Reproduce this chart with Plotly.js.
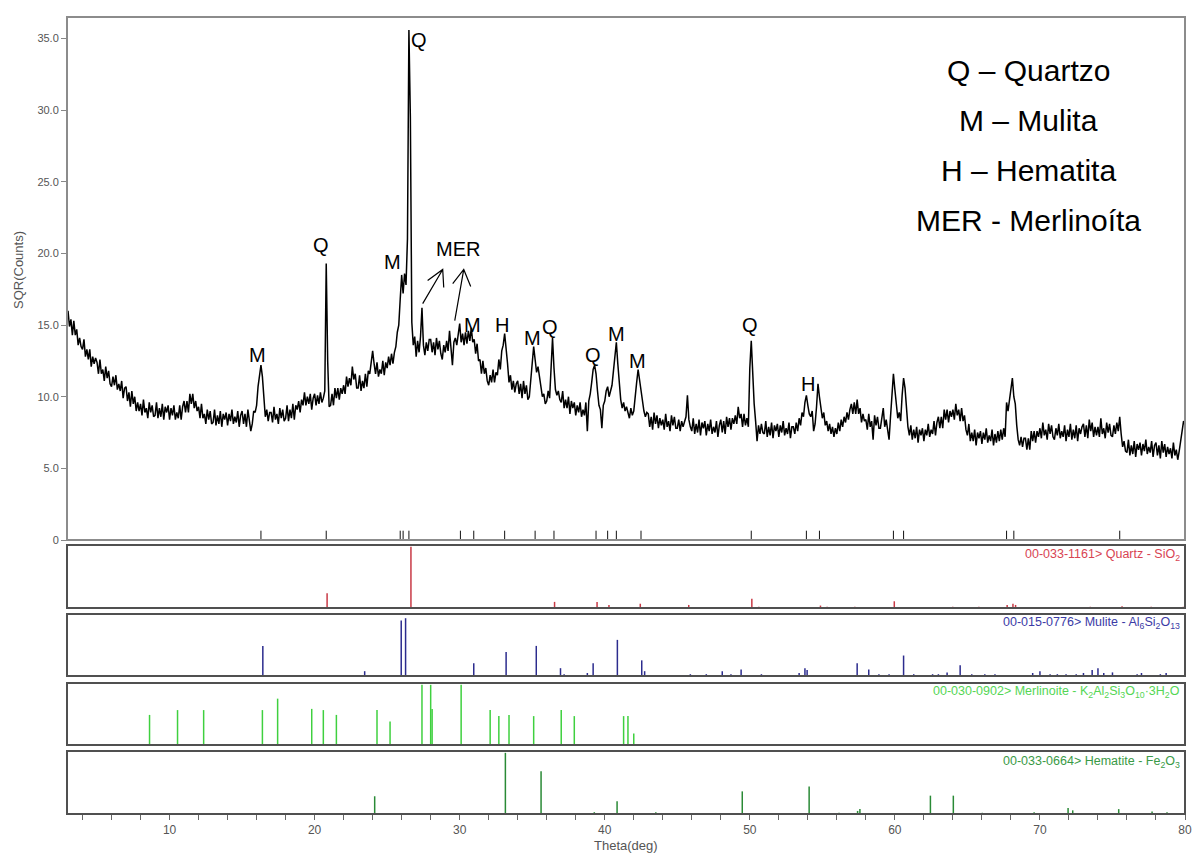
<!DOCTYPE html>
<html>
<head>
<meta charset="utf-8">
<script src="https://cdn.plot.ly/plotly-3.0.1.min.js"></script>
<style>html,body{margin:0;padding:0;background:#fff;}#chart{width:1192px;height:855px;}</style>
</head>
<body>
<div id="chart"></div>
<script>
// ---------- DATA ----------
const scanStart = 3.0;   // degrees
const scanStep = 0.1;    // degrees
const sqrtCounts = [
16.0,14.9,15.4,14.3,15.3,14.3,14.7,13.6,14.1,13.5,
13.3,14.0,12.8,13.3,12.6,13.3,12.1,12.8,12.3,12.7,
12.4,11.6,12.6,11.6,11.9,11.1,12.1,11.3,11.8,10.9,
10.7,11.4,10.8,11.5,10.5,10.9,10.4,11.1,9.9,10.6,
10.7,9.7,10.3,9.3,10.4,9.5,10.0,9.0,9.6,9.0,
9.5,8.7,9.8,8.9,9.2,8.5,9.6,8.9,9.4,8.6,
8.7,9.6,8.5,9.2,8.6,9.5,8.4,9.3,8.9,9.4,
8.4,9.2,8.7,9.4,8.4,8.9,8.5,9.4,8.4,9.3,
9.7,8.9,9.7,8.9,10.2,9.5,10.2,9.2,9.7,9.0,
9.3,8.5,9.5,8.5,8.8,8.1,9.1,8.4,9.0,8.1,
8.2,9.1,8.0,8.7,8.1,9.0,7.9,8.8,8.4,8.9,
8.0,8.8,8.3,9.1,8.1,8.6,8.2,9.0,7.9,8.7,
9.0,8.1,8.8,7.9,9.1,8.3,7.6,8.1,9.0,8.9,
9.4,10.7,11.3,12.2,11.4,9.7,8.6,9.1,8.3,8.9,
8.9,8.2,9.3,8.4,8.8,8.1,9.2,8.5,9.1,8.3,
8.5,9.4,8.3,9.1,8.5,9.5,8.4,9.4,9.1,9.7,
8.9,9.8,9.4,10.3,9.4,10.0,9.5,10.2,9.1,9.9,
10.2,9.4,10.1,9.5,10.3,9.6,9.9,10.4,19.3,12.5,
9.3,9.4,10.2,9.4,10.6,9.9,10.6,9.8,10.6,10.2,
10.8,10.2,11.4,10.7,11.3,10.8,12.1,11.2,11.6,10.6,
10.6,11.5,10.4,11.1,10.6,11.6,10.7,11.8,11.6,12.4,
13.2,12.3,11.6,12.4,11.4,11.9,11.6,12.5,11.5,12.4,
12.0,12.8,12.2,13.0,12.3,13.1,13.5,14.5,15.0,16.8,
18.5,17.2,18.6,17.8,21.0,35.6,29.5,15.2,13.6,14.2,
12.8,13.9,13.1,14.2,16.2,13.6,12.9,13.8,13.2,14.0,
14.0,13.1,13.8,12.9,14.1,13.3,13.9,13.0,12.6,13.6,
13.1,13.9,13.2,14.6,13.4,12.2,13.8,14.1,13.6,14.5,
15.1,13.8,14.4,13.6,14.5,13.7,14.6,13.9,14.8,13.8,
14.0,13.0,13.7,12.5,12.6,11.6,12.5,11.6,12.0,11.1,
10.8,11.5,11.0,11.9,11.0,11.7,11.5,12.6,11.9,13.2,
13.6,14.4,13.5,12.3,11.0,11.5,10.5,11.1,10.3,10.9,
11.1,10.2,10.9,9.9,11.1,10.2,10.8,9.8,10.0,11.3,
12.5,13.5,12.6,11.7,12.1,11.3,10.9,10.0,10.2,9.5,
9.7,10.4,9.9,11.8,14.1,12.0,10.5,10.1,10.4,9.8,
9.6,10.4,9.2,9.8,9.2,10.0,8.8,9.7,9.2,9.6,
8.7,9.4,8.9,9.6,8.6,9.1,8.7,9.6,7.6,9.7,
10.2,11.0,11.9,12.2,11.6,10.4,9.4,9.1,7.8,9.4,
9.7,10.4,10.7,10.0,10.5,10.8,11.8,13.0,13.8,12.3,
10.8,9.8,9.2,9.6,9.0,9.3,8.9,8.5,9.2,8.7,
9.0,9.8,11.0,11.9,11.2,10.3,9.6,9.0,8.6,8.9,
8.8,7.9,8.6,7.7,8.9,8.1,8.7,7.8,8.5,8.0,
8.4,7.7,8.8,7.9,8.3,7.6,8.7,8.0,8.6,7.8,
7.8,8.4,7.6,8.3,7.9,8.2,8.6,10.1,8.4,7.9,
7.6,8.5,7.4,8.1,7.5,8.4,7.3,8.2,7.8,8.3,
7.3,8.1,7.6,8.4,7.4,7.9,7.5,8.3,7.2,8.0,
8.4,7.5,8.3,7.4,8.6,7.9,8.5,7.7,8.5,8.1,
8.7,8.1,9.3,8.5,8.8,7.9,8.8,8.0,8.5,7.9,
12.0,13.9,11.2,9.5,8.3,6.9,8.0,7.4,8.1,7.5,
7.4,8.3,7.2,7.9,7.3,8.2,7.1,8.0,7.6,8.1,
7.2,8.0,7.5,8.3,7.3,7.8,7.4,8.2,7.1,7.9,
7.9,7.4,8.2,7.6,8.5,8.0,8.9,8.6,9.6,10.1,
9.4,8.8,8.6,9.0,7.6,8.1,9.3,10.9,10.0,9.3,
8.5,8.9,8.0,8.3,7.6,8.1,7.4,7.9,7.2,7.8,
7.4,8.2,7.6,8.4,7.9,8.6,8.2,8.9,8.4,9.1,
9.5,8.8,9.6,8.8,9.8,8.8,9.2,8.2,8.8,8.3,
8.4,7.7,8.8,7.9,8.3,7.0,8.7,8.0,8.6,7.8,
7.8,8.5,9.2,7.9,8.4,7.7,7.0,8.6,9.8,11.6,
10.5,9.3,8.5,8.9,8.3,10.1,11.3,10.6,8.8,7.9,
7.3,8.0,7.0,7.7,7.1,7.9,6.8,7.7,7.3,7.8,
6.9,7.7,7.3,8.1,7.2,7.7,7.4,8.3,7.3,8.2,
8.6,7.8,8.6,7.8,9.1,8.4,9.1,8.2,9.0,8.6,
9.1,8.4,9.5,8.7,9.1,8.3,9.2,8.3,8.7,7.7,
7.3,8.1,6.9,7.5,6.9,7.7,6.6,7.5,7.1,7.6,
6.7,7.5,7.0,7.8,6.8,7.3,6.9,7.7,6.6,7.4,
6.8,7.6,6.9,7.7,7.0,7.8,7.2,9.6,9.0,9.8,
10.4,11.3,10.0,9.5,8.0,7.0,6.6,7.2,6.5,7.1,
7.1,6.3,7.1,6.3,7.6,6.9,7.6,6.8,7.6,7.2,
7.8,7.1,8.2,7.3,7.7,7.0,8.1,7.4,8.0,7.2,
7.0,7.8,7.3,8.1,7.1,7.6,7.2,8.0,6.9,7.7,
7.2,8.1,7.0,7.7,7.1,8.0,6.9,7.8,7.4,7.9,
8.1,7.2,8.0,7.1,8.4,7.6,8.2,7.2,7.9,7.3,
7.9,7.2,8.5,7.4,7.8,7.1,8.2,7.5,8.1,7.3,
7.2,8.0,7.4,8.2,7.6,8.6,7.4,6.5,6.9,6.2,
6.1,7.0,5.9,6.6,6.0,6.9,5.8,6.7,6.3,6.8,
5.9,6.7,6.2,7.0,6.0,6.5,6.1,6.9,5.8,6.6,
6.8,5.9,6.6,5.7,6.9,6.1,6.7,5.8,6.5,6.0,
6.4,5.7,6.8,5.9,6.3,5.6,6.2,6.9,7.6,8.3,
8.0
];

// identified peak markers (under the main scan)
const peakMarks = [16.3,20.8,25.9,26.1,26.5,30.05,30.97,33.1,35.2,36.5,39.4,40.2,40.8,42.5,50.1,53.9,54.8,59.9,60.6,67.7,68.2,75.5];

// reference patterns: positions (deg) and relative intensities (%)
const quartzPos = [20.86,26.64,36.54,39.47,40.29,42.45,45.79,50.14,50.62,54.87,55.33,57.24,59.96,63.99,65.79,67.74,68.14,68.32,73.47,75.66,77.67,79.88];
const quartzInt = [24,100,10,10,5,7,5,15,2,4,2,2,11,2,2,5,7,5,2,3,2,2];

const mullitePos = [16.43,23.45,25.97,26.27,30.97,33.2,35.28,36.95,37.2,38.8,39.2,40.87,42.55,42.75,45.9,47.0,48.1,48.7,49.4,50.8,53.4,53.8,53.95,57.4,58.2,58.9,59.6,60.6,61.3,62.6,63.0,63.6,64.5,65.3,66.2,66.9,69.5,70.0,70.7,71.2,71.8,72.5,73.0,73.6,74.0,74.4,75.0,76.7,77.0,78.3,78.7];
const mulliteInt = [50,8,92,96,21,40,50,13,3,5,21,60,26,8,3,3,8,3,11,3,5,13,10,21,11,3,3,34,3,3,3,6,18,3,3,3,5,8,3,3,3,3,5,10,13,5,6,3,5,3,5];

const merlinoitePos = [8.62,10.55,12.35,16.4,17.45,19.8,20.6,21.5,24.3,25.2,27.4,28.0,28.1,30.1,32.1,32.7,33.4,35.1,37.0,37.9,41.3,41.6,42.0];
const merlinoiteInt = [50,58,58,58,77,60,58,50,58,39,100,100,60,100,58,48,50,48,58,48,48,48,19];

const hematitePos = [24.14,33.15,35.61,39.28,40.85,43.52,49.48,54.09,56.15,57.43,57.59,62.45,64.03,66.03,69.60,71.94,72.26,75.43,77.73,78.76];
const hematiteInt = [29,100,70,3,21,3,37,45,2,5,8,30,30,2,3,10,6,8,4,3];

const yTickVals = [0,5,10,15,20,25,30,35];
const yTickText = ['0','5.0','10.0','15.0','20.0','25.0','30.0','35.0'];

const panelLabels = [
  '00-033-1161> Quartz - SiO<sub>2</sub>',
  '00-015-0776> Mulite - Al<sub>6</sub>Si<sub>2</sub>O<sub>13</sub>',
  '00-030-0902> Merlinoite - K<sub>2</sub>Al<sub>2</sub>Si<sub>3</sub>O<sub>10</sub>·3H<sub>2</sub>O',
  '00-033-0664> Hematite - Fe<sub>2</sub>O<sub>3</sub>'
];

const peakLabels = [
  {t:'Q', x:27.2, y:34.9},
  {t:'Q', x:20.45, y:20.6},
  {t:'M', x:25.35, y:19.4},
  {t:'MER', x:29.85, y:20.3},
  {t:'M', x:16.05, y:12.9},
  {t:'M', x:30.9, y:15.0},
  {t:'H', x:32.95, y:15.0},
  {t:'M', x:35.0, y:14.1},
  {t:'Q', x:36.2, y:14.9},
  {t:'Q', x:39.2, y:12.9},
  {t:'M', x:40.8, y:14.4},
  {t:'M', x:42.25, y:12.5},
  {t:'Q', x:50.0, y:15.0},
  {t:'H', x:54.0, y:10.9}
];

const legendLines = ['Q – Quartzo','M – Mulita','H – Hematita','MER - Merlinoíta'];

// ---------- BUILD ----------
const theta = sqrtCounts.map((v,i)=> +(scanStart + i*scanStep).toFixed(2));

function sticks(pos, inten) {
  const xs = [], ys = [];
  pos.forEach((p,i)=>{ xs.push(p,p,null); ys.push(0,inten[i],null); });
  return {xs, ys};
}

const FONT = 'Liberation Sans, Arial, sans-serif';
const traces = [];
traces.push({x: theta, y: sqrtCounts, type:'scatter', mode:'lines', line:{color:'#000', width:1.5}, xaxis:'x', yaxis:'y', hoverinfo:'skip'});

const pm = sticks(peakMarks, peakMarks.map(()=>0.65));
traces.push({x: pm.xs, y: pm.ys, type:'scatter', mode:'lines', line:{color:'#111', width:1}, xaxis:'x', yaxis:'y'});

const phases = [
  {pos:quartzPos, int:quartzInt, color:'#c83a46', ax:'y2'},
  {pos:mullitePos, int:mulliteInt, color:'#2c2c8e', ax:'y3'},
  {pos:merlinoitePos, int:merlinoiteInt, color:'#3fd03f', ax:'y4'},
  {pos:hematitePos, int:hematiteInt, color:'#2a8a36', ax:'y5'}
];
phases.forEach(ph=>{
  const s = sticks(ph.pos, ph.int);
  traces.push({x:s.xs, y:s.ys, type:'scatter', mode:'lines', line:{color:ph.color, width:1.5}, xaxis:'x', yaxis:ph.ax});
});

const H = 855, W = 1192;
const py = p => 1 - p/H;
const xDom = [67/W, 1185/W];
const domMain = [py(540), py(17)];
const domQ = [py(608), py(545)];
const domM = [py(676), py(614)];
const domMer = [py(745), py(683)];
const domH = [py(814), py(751)];

const hiddenY = (dom)=>({domain:dom, range:[0,103], showticklabels:false, showgrid:false, zeroline:false, ticks:'', showline:false, anchor:'x', fixedrange:true});

const shapes = [];
shapes.push({type:'rect', xref:'x domain', yref:'y domain', x0:0, x1:1, y0:0, y1:1, line:{color:'#8c8c8c', width:2}});
['y2','y3','y4','y5'].forEach(a=>{
  shapes.push({type:'rect', xref:'x domain', yref:a+' domain', x0:0, x1:1, y0:0, y1:1, line:{color:'#505050', width:2}});
});
// MER arrows
shapes.push({type:'path', xref:'x', yref:'y', path:'M 27.45,16.5 L 28.83,18.88 M 27.79,18.11 L 28.83,18.88 L 28.9,17.62', line:{color:'#000', width:1.2}});
shapes.push({type:'path', xref:'x', yref:'y', path:'M 29.66,15.31 L 30.28,18.88 M 29.52,17.9 L 30.28,18.88 L 30.76,17.69', line:{color:'#000', width:1.2}});

const annotations = [];
peakLabels.forEach(l=>{
  annotations.push({x:l.x, y:l.y, xref:'x', yref:'y', text:l.t, showarrow:false, font:{family:FONT, size:20, color:'#000'}});
});
const legY = [70, 121, 171, 220];
legendLines.forEach((t,i)=>{
  annotations.push({x:1028/W, y:py(legY[i]), xref:'paper', yref:'paper', text:t, showarrow:false, xanchor:'center', yanchor:'middle', font:{family:FONT, size:30, color:'#000'}});
});
const labColors = ['#d84453','#3b3ba6','#55d655','#3a9a46'];
const labY = [555, 623, 692, 762];
panelLabels.forEach((t,i)=>{
  annotations.push({x:1182/W, y:py(labY[i]), xref:'paper', yref:'paper', text:t, showarrow:false, xanchor:'right', yanchor:'middle', font:{family:FONT, size:12.5, color:labColors[i]}});
});
annotations.push({x:18/W, y:py(270), xref:'paper', yref:'paper', text:'SQR(Counts)', textangle:-90, showarrow:false, xanchor:'center', yanchor:'middle', font:{family:FONT, size:13, color:'#555'}});
annotations.push({x:626/W, y:py(845), xref:'paper', yref:'paper', text:'Theta(deg)', showarrow:false, xanchor:'center', yanchor:'middle', font:{family:FONT, size:13, color:'#555'}});

const layout = {
  width:W, height:H,
  margin:{l:0, r:0, t:0, b:0, pad:0},
  paper_bgcolor:'#fff', plot_bgcolor:'#fff',
  showlegend:false,
  xaxis:{domain:xDom, range:[2.93,80], anchor:'y5', tick0:0, dtick:10, ticks:'outside', ticklen:5, tickwidth:1, tickcolor:'#666',
    minor:{dtick:2, ticks:'outside', ticklen:5, tickwidth:1, tickcolor:'#666', showgrid:false},
    showgrid:false, zeroline:false, showline:false, tickfont:{family:FONT, size:12, color:'#555'}},
  yaxis:{domain:domMain, range:[0,36.5], anchor:'x', tickvals:yTickVals, ticktext:yTickText, ticks:'outside', ticklen:5, tickwidth:1, tickcolor:'#888',
    showgrid:false, zeroline:false, showline:false, tickfont:{family:FONT, size:11, color:'#555'}},
  yaxis2:hiddenY(domQ),
  yaxis3:hiddenY(domM),
  yaxis4:hiddenY(domMer),
  yaxis5:hiddenY(domH),
  shapes, annotations
};

Plotly.newPlot('chart', traces, layout, {staticPlot:true, displayModeBar:false});
</script>
</body>
</html>
